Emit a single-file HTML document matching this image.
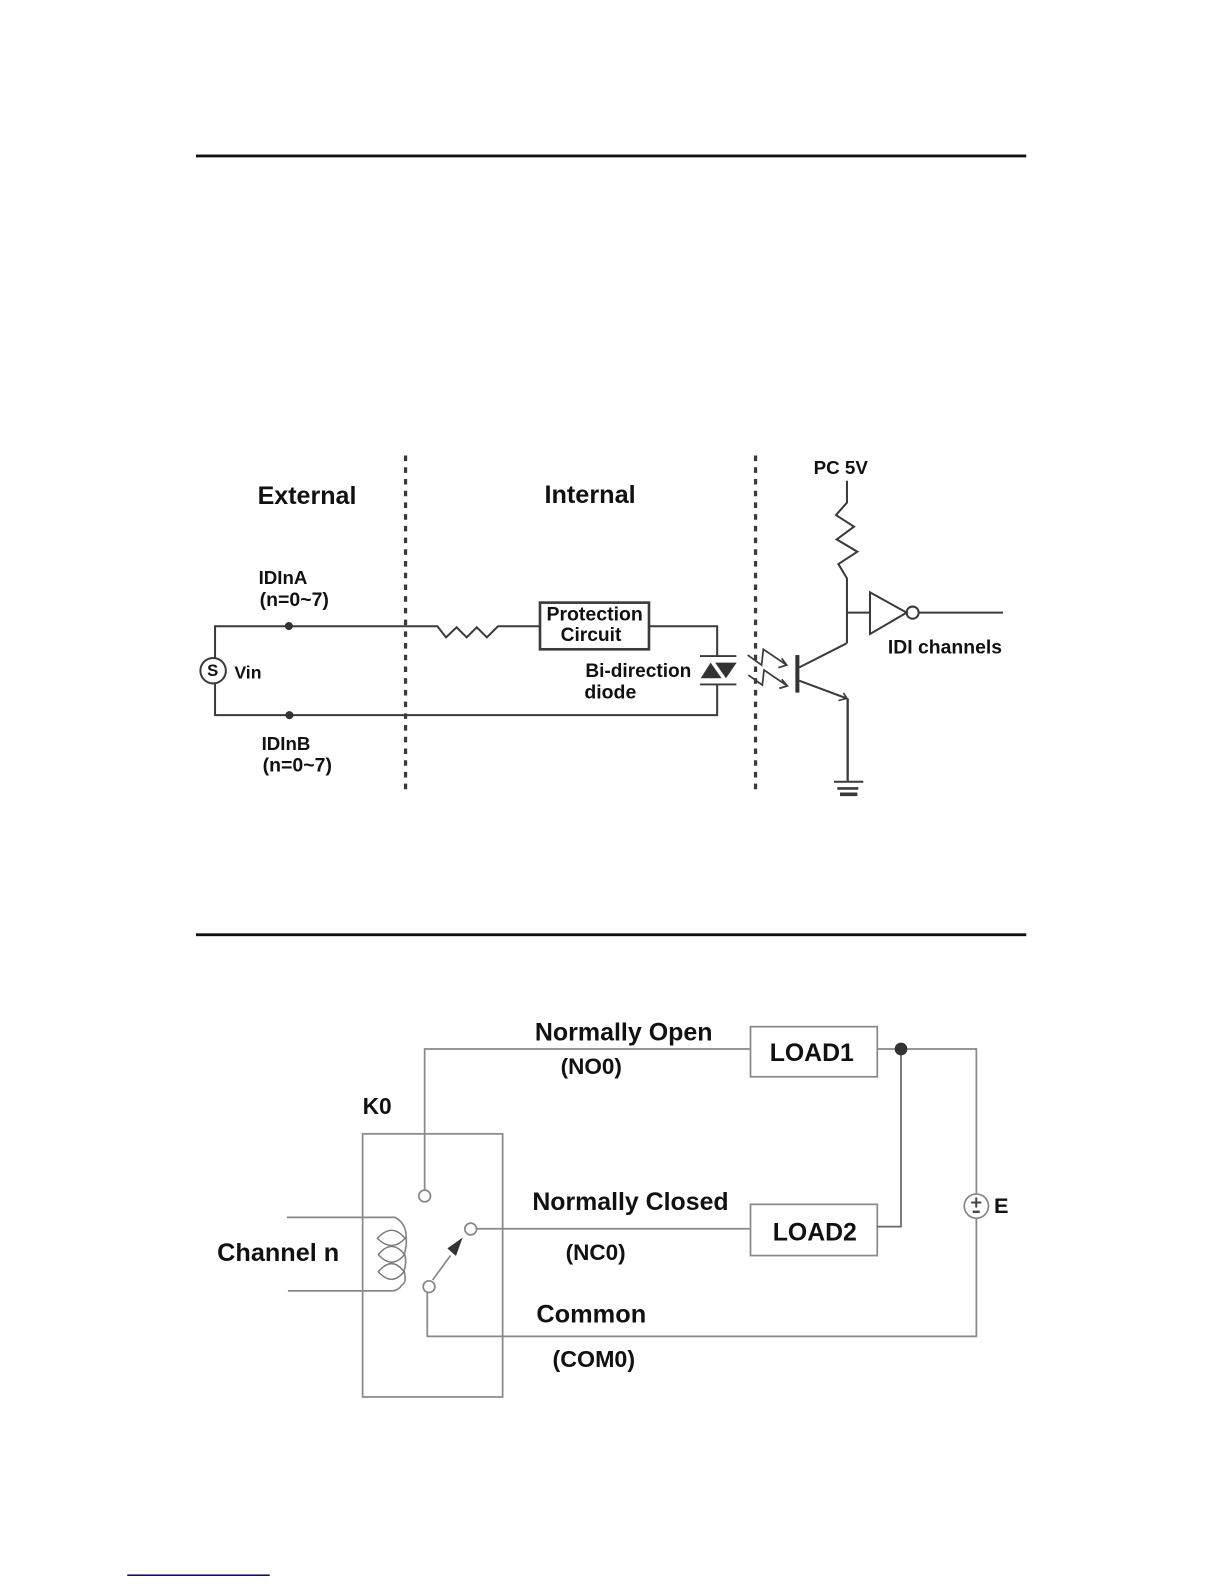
<!DOCTYPE html>
<html><head><meta charset="utf-8"><style>
html,body{margin:0;padding:0;background:#fff;width:1224px;height:1584px;overflow:hidden}
svg{display:block}
text{font-family:"Liberation Sans",sans-serif;font-weight:bold;fill:#111}
</style></head><body>
<svg width="1224" height="1584" viewBox="0 0 1224 1584">
<g transform="scale(1.0101)">
<rect x="194" y="153" width="822" height="2.800" fill="#111"/>
<rect x="194" y="924" width="822" height="2.800" fill="#111"/>
<rect x="126" y="1558.700" width="141" height="1.500" fill="#00008b"/>

<g fill="none" stroke="#3a3a3a" stroke-width="2">
<line x1="401.500" y1="451" x2="401.500" y2="783" stroke-width="3.200" stroke-dasharray="5.500 6.100"/>
<line x1="748" y1="451" x2="748" y2="783" stroke-width="3.200" stroke-dasharray="5.500 6.100"/>
<path d="M212.900 651V620H433L441.600 631 452 621 462 631 472 621 482 631 493 620H535"/>
<path d="M212.900 677V708H710V678"/>
<path d="M642 620H710V649.500"/>
<rect x="534.600" y="596.600" width="107.900" height="46.200" stroke-width="2.600"/>
<circle cx="211" cy="664" r="12.600" stroke-width="2"/>
<line x1="693" y1="649.500" x2="729" y2="649.500" stroke-width="1.800"/>
<line x1="693" y1="677.600" x2="729" y2="677.600" stroke-width="1.800"/>
<path d="M838.500 475.900V497.600L827.600 509.900 845.500 521.400 828.300 534 848.800 546.200 830 558.400 838.500 572.600V636.900"/>
<path d="M838.900 606.500H861.300"/>
<path d="M861.300 586.400V627.700L897.600 606.500Z"/>
<circle cx="903.500" cy="606.500" r="6"/>
<line x1="910" y1="606.500" x2="993" y2="606.500"/>
<line x1="838.200" y1="636.900" x2="791.300" y2="660.700"/>
<line x1="791.300" y1="673.900" x2="838.200" y2="691.400"/>
<path d="M830 693.500L838.500 691.400 835 686" stroke-width="1.600"/>
<line x1="839.200" y1="691.400" x2="839.200" y2="773" stroke-width="2.300"/>
<line x1="825.700" y1="773.900" x2="854.700" y2="773.900"/>
<line x1="829" y1="780.500" x2="849.800" y2="780.500" stroke-width="2.600"/>
<line x1="831.600" y1="786.400" x2="848.800" y2="786.400" stroke-width="3.600"/>
<path d="M740.200 648.500L754 658.400 755.700 642.800 778.800 658.400M773.900 651.800L778.800 658.400 770.600 661" stroke-width="1.700"/>
<path d="M740.900 668.300L754.700 678.200 756.400 663.300 779.500 679.100M773.900 672.500L779.500 679.100 771.500 681.500" stroke-width="1.700"/>
</g>
<rect x="787.400" y="648.500" width="4" height="37.200" fill="#333"/>
<circle cx="286" cy="619.800" r="4" fill="#333"/>
<circle cx="286.500" cy="708" r="4" fill="#333"/>
<path d="M693.700 671.500L703.500 656 714.400 671.500Z" fill="#333"/>
<path d="M708 656H729.300L718.700 671.500Z" fill="#333"/>

<text x="255" y="499" font-size="24.800">External</text>
<text x="539" y="498" font-size="25">Internal</text>
<text x="805.500" y="469.500" font-size="18.600">PC 5V</text>
<text x="256" y="578" font-size="18.500">IDInA</text>
<text x="257" y="600" font-size="19.300">(n=0~7)</text>
<text x="259" y="742.500" font-size="18.500">IDInB</text>
<text x="260" y="764" font-size="19.300">(n=0~7)</text>
<text x="232" y="671.500" font-size="17.500">Vin</text>
<text x="205" y="669" font-size="16.500">S</text>
<text x="541" y="614.500" font-size="19.300">Protection</text>
<text x="555" y="634.600" font-size="19">Circuit</text>
<text x="579.500" y="670" font-size="18.900">Bi-direction</text>
<text x="578.500" y="691.500" font-size="19.300">diode</text>
<text x="879" y="647" font-size="19.200">IDI channels</text>

<g fill="none" stroke="#888" stroke-width="1.700">
<rect x="359" y="1122.500" width="138.600" height="260.500"/>
<rect x="743" y="1016.400" width="125.500" height="49.600"/>
<rect x="743" y="1192.300" width="125.500" height="50.700"/>
<path d="M420.400 1178V1038.500H743"/>
<path d="M868.500 1038.500H966.600V1182M966.600 1206V1323H423V1280"/>
<path d="M892 1038.500V1214.400H868.500" stroke="#666"/>
<path d="M472 1216.500H743"/>
<circle cx="420.400" cy="1184" r="5.800"/>
<circle cx="466" cy="1216.700" r="5.800"/>
<circle cx="424.700" cy="1273.800" r="5.800"/>
<line x1="428.300" y1="1267.200" x2="446" y2="1243"/>
<path d="M284 1205.200H391Q402 1211 402 1224Q403 1232 400.500 1241Q403 1250 400 1258Q403 1270 398 1272Q394 1278 388 1278H285"/>
<path d="M373.600 1226Q388 1210 401 1226Q388 1240 373.600 1226ZM374.500 1242Q388 1226 400.500 1242Q388 1257 374.500 1242ZM374.500 1259Q388 1243 400 1259Q388 1274 374.500 1259Z" stroke="#777" stroke-width="1.400"/>
<circle cx="966.600" cy="1194" r="12"/>
</g>
<path d="M458 1225.300L442.900 1235.900 451.400 1243.400Z" fill="#333"/>
<circle cx="892" cy="1038.500" r="6.300" fill="#333"/>
<rect x="961.500" y="1189.500" width="10" height="2" fill="#444"/><rect x="965.500" y="1185.500" width="2" height="10" fill="#444"/><rect x="963" y="1198.500" width="7" height="2.300" fill="#444"/>

<text x="529.500" y="1030" font-size="24.750">Normally Open</text>
<text x="555" y="1063.500" font-size="22.300">(NO0)</text>
<text x="762" y="1050.500" font-size="24.600">LOAD1</text>
<text x="359" y="1103" font-size="22.500">K0</text>
<text x="527" y="1198" font-size="24.650">Normally Closed</text>
<text x="560" y="1247.500" font-size="22.300">(NC0)</text>
<text x="765" y="1228" font-size="24.600">LOAD2</text>
<text x="215" y="1248.500" font-size="25">Channel n</text>
<text x="531" y="1309.500" font-size="25.100">Common</text>
<text x="547" y="1353.500" font-size="23">(COM0)</text>
<text x="984" y="1201" font-size="21.500">E</text>
</g>
</svg>
</body></html>
